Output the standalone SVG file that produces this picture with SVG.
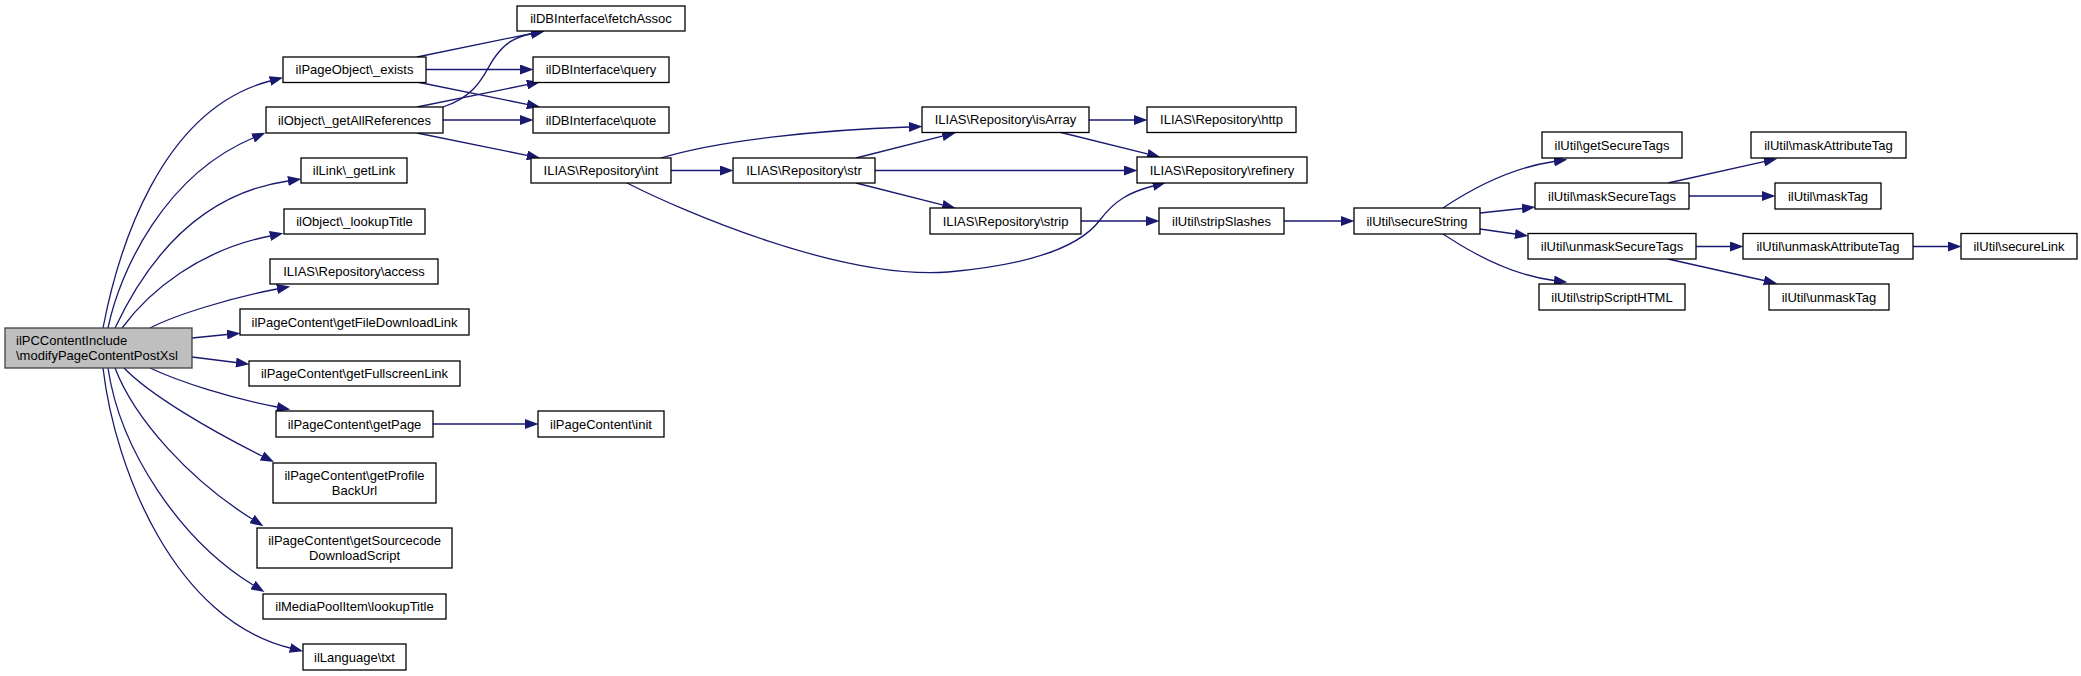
<svg xmlns="http://www.w3.org/2000/svg" width="2081" height="676" viewBox="0 0 2081 676">
<style>
.n rect{fill:#fff;stroke:#000;stroke-width:1.3}
.n text{font-family:"Liberation Sans",Arial,Helvetica,sans-serif;font-size:13px;fill:#000;text-anchor:middle}
#main rect{fill:#bfbfbf;stroke:#404040}
#main text{text-anchor:start}
.e path{fill:none;stroke:#191970;stroke-width:1.3;marker-end:url(#arr)}
</style>
<defs>
<marker id="arr" markerUnits="userSpaceOnUse" markerWidth="14" markerHeight="10" refX="0" refY="5" orient="auto">
<path d="M0,0 L13.5,5 L0,10 z" fill="#191970"/>
</marker>
</defs>
<rect width="2081" height="676" fill="#fff"/>
<g id="edges" class="e">
<path d="M103,328 C118,250 160,110 270,81"/>
<path d="M108,328 C120,270 165,175 253,138"/>
<path d="M115,328 C140,275 190,195 288,181"/>
<path d="M122,328 C150,290 200,250 270,236"/>
<path d="M150,328 C175,315 230,298 277,289"/>
<path d="M192,338 L227,334.5"/>
<path d="M192,357 L236,362.5"/>
<path d="M150,368 C180,382 230,398 277,407"/>
<path d="M124,368 C150,395 210,430 262,456"/>
<path d="M115,368 C135,420 190,480 252,519"/>
<path d="M108,368 C120,450 180,540 253,585"/>
<path d="M103,368 C115,470 175,620 290,648"/>
<path d="M417,57 L531,33.6"/>
<path d="M426,69.5 L520,69.5"/>
<path d="M417,82 L527,104.4"/>
<path d="M443,107 C480,95 485,70 495,57 C505,43 515,37 531,34"/>
<path d="M417,107 L527,84.6"/>
<path d="M443,120 L520,120"/>
<path d="M417,133 L527,155.4"/>
<path d="M661,158 C720,140 820,130 909,127"/>
<path d="M671,170.5 L720,170.5"/>
<path d="M627,183 C680,210 840,280 948,272 C1050,263 1085,240 1100,220 C1115,200 1130,192 1153,186"/>
<path d="M856,158 L942.4,136.2"/>
<path d="M875,170.5 L1124,170.5"/>
<path d="M856,183 L942.4,204.8"/>
<path d="M1089,120 L1134,120"/>
<path d="M1059,132 L1147.4,153.9"/>
<path d="M1081,221 L1146,221"/>
<path d="M1284,221 L1341,221"/>
<path d="M433,424 L525,424"/>
<path d="M1443,208 C1470,190 1510,168 1554,161.5"/>
<path d="M1480,213 L1522,208.5"/>
<path d="M1480,229 L1515,234"/>
<path d="M1443,234 C1470,252 1510,275 1554,280.5"/>
<path d="M1668,183 L1764,161.6"/>
<path d="M1689,196 L1762,196"/>
<path d="M1696,246.5 L1730,246.5"/>
<path d="M1668,259 L1764,280.5"/>
<path d="M1913,246.5 L1948,246.5"/>
</g>
<g id="main" class="n"><rect x="5" y="328" width="187" height="40"/><text x="16" y="344.5">ilPCContentInclude</text><text x="16" y="360">\modifyPageContentPostXsl</text></g>
<g id="n_exists" class="n"><rect x="283" y="57" width="143" height="25.5"/><text x="354.5" y="74.3">ilPageObject\_exists</text></g>
<g id="n_getAllReferences" class="n"><rect x="266" y="107" width="177" height="26"/><text x="354.5" y="124.5">ilObject\_getAllReferences</text></g>
<g id="n_getLink" class="n"><rect x="301" y="158" width="106" height="25"/><text x="354" y="175">ilLink\_getLink</text></g>
<g id="n_lookupTitle" class="n"><rect x="284" y="209" width="141" height="25"/><text x="354.5" y="226">ilObject\_lookupTitle</text></g>
<g id="n_access" class="n"><rect x="270" y="259" width="168" height="25"/><text x="354" y="276">ILIAS\Repository\access</text></g>
<g id="n_getFileDownloadLink" class="n"><rect x="240" y="309" width="229" height="26"/><text x="354.5" y="326.5">ilPageContent\getFileDownloadLink</text></g>
<g id="n_getFullscreenLink" class="n"><rect x="249" y="361" width="211" height="25"/><text x="354.5" y="378">ilPageContent\getFullscreenLink</text></g>
<g id="n_getPage" class="n"><rect x="276" y="411" width="157" height="26"/><text x="354.5" y="428.5">ilPageContent\getPage</text></g>
<g id="n_getProfileBackUrl" class="n"><rect x="273" y="463" width="163" height="40"/><text x="354.5" y="479.5">ilPageContent\getProfile</text><text x="354.5" y="495">BackUrl</text></g>
<g id="n_getSourcecodeDownloadScript" class="n"><rect x="257" y="528" width="195" height="40"/><text x="354.5" y="544.5">ilPageContent\getSourcecode</text><text x="354.5" y="560">DownloadScript</text></g>
<g id="n_mediaPoolLookupTitle" class="n"><rect x="263" y="594" width="183" height="25"/><text x="354.5" y="611">ilMediaPoolItem\lookupTitle</text></g>
<g id="n_txt" class="n"><rect x="303" y="644" width="103" height="26"/><text x="354.5" y="661.5">ilLanguage\txt</text></g>
<g id="n_fetchAssoc" class="n"><rect x="517" y="6" width="168" height="25"/><text x="601" y="23">ilDBInterface\fetchAssoc</text></g>
<g id="n_query" class="n"><rect x="533" y="57" width="136" height="25.5"/><text x="601" y="74.3">ilDBInterface\query</text></g>
<g id="n_quote" class="n"><rect x="533" y="107" width="136" height="26"/><text x="601" y="124.5">ilDBInterface\quote</text></g>
<g id="n_int" class="n"><rect x="531" y="158" width="140" height="25"/><text x="601" y="175">ILIAS\Repository\int</text></g>
<g id="n_init" class="n"><rect x="538" y="411" width="126" height="26"/><text x="601" y="428.5">ilPageContent\init</text></g>
<g id="n_str" class="n"><rect x="733" y="158" width="142" height="25"/><text x="804" y="175">ILIAS\Repository\str</text></g>
<g id="n_isArray" class="n"><rect x="922" y="107" width="167" height="25.5"/><text x="1005.5" y="124.3">ILIAS\Repository\isArray</text></g>
<g id="n_strip" class="n"><rect x="930" y="208" width="151" height="26"/><text x="1005.5" y="225.5">ILIAS\Repository\strip</text></g>
<g id="n_http" class="n"><rect x="1147" y="107" width="149" height="25.5"/><text x="1221.5" y="124.3">ILIAS\Repository\http</text></g>
<g id="n_refinery" class="n"><rect x="1137" y="157" width="170" height="26"/><text x="1222" y="174.5">ILIAS\Repository\refinery</text></g>
<g id="n_stripSlashes" class="n"><rect x="1159" y="208" width="125" height="26"/><text x="1221.5" y="225.5">ilUtil\stripSlashes</text></g>
<g id="n_secureString" class="n"><rect x="1354" y="208" width="126" height="26"/><text x="1417" y="225.5">ilUtil\secureString</text></g>
<g id="n_getSecureTags" class="n"><rect x="1542" y="132" width="140" height="26"/><text x="1612" y="149.5">ilUtil\getSecureTags</text></g>
<g id="n_maskSecureTags" class="n"><rect x="1535" y="183" width="154" height="26"/><text x="1612" y="200.5">ilUtil\maskSecureTags</text></g>
<g id="n_unmaskSecureTags" class="n"><rect x="1528" y="233.5" width="168" height="25.5"/><text x="1612" y="250.8">ilUtil\unmaskSecureTags</text></g>
<g id="n_stripScriptHTML" class="n"><rect x="1539" y="284" width="146" height="26"/><text x="1612" y="301.5">ilUtil\stripScriptHTML</text></g>
<g id="n_maskAttributeTag" class="n"><rect x="1751" y="132" width="155" height="26"/><text x="1828.5" y="149.5">ilUtil\maskAttributeTag</text></g>
<g id="n_maskTag" class="n"><rect x="1775" y="183" width="106" height="26"/><text x="1828" y="200.5">ilUtil\maskTag</text></g>
<g id="n_unmaskAttributeTag" class="n"><rect x="1743" y="233.5" width="170" height="25.5"/><text x="1828" y="250.8">ilUtil\unmaskAttributeTag</text></g>
<g id="n_unmaskTag" class="n"><rect x="1769" y="284" width="120" height="26"/><text x="1829" y="301.5">ilUtil\unmaskTag</text></g>
<g id="n_secureLink" class="n"><rect x="1961" y="233.5" width="116" height="25.5"/><text x="2019" y="250.8">ilUtil\secureLink</text></g>
</svg>
